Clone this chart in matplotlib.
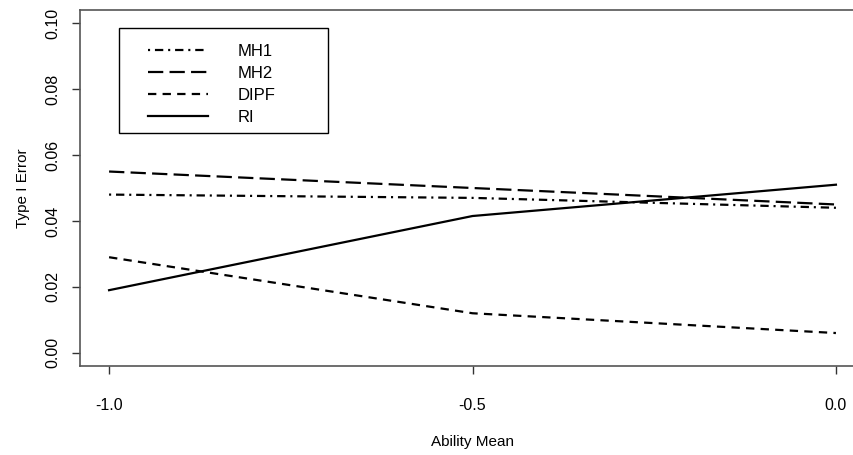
import matplotlib
matplotlib.use("Agg")
import matplotlib.pyplot as plt
from matplotlib.patches import Rectangle

plt.rcParams['font.family'] = ['Liberation Sans', 'DejaVu Sans']
plt.rcParams['lines.scale_dashes'] = False

ability_mean = [-1.0, -0.5, 0.0]
series_names = ['MH1', 'MH2', 'DIPF', 'RI']
mh1 = [0.048, 0.047, 0.044]
mh2 = [0.055, 0.050, 0.045]
dipf = [0.029, 0.012, 0.006]
ri = [0.019, 0.0415, 0.051]
x_ticks = [-1.0, -0.5, 0.0]
x_tick_labels = ['-1.0', '-0.5', '0.0']
y_ticks = [0.00, 0.02, 0.04, 0.06, 0.08, 0.10]
y_tick_labels = ['0.00', '0.02', '0.04', '0.06', '0.08', '0.10']

# dash patterns in points (R-like lty 4, 5, 2, 1)
styles = [(0, (1.5, 3.5, 6, 3.5)), (0, (11, 4.5)), (0, (6, 4.5)), '-']

W, H = 854, 455
fig = plt.figure(figsize=(W / 100, H / 100), dpi=100)
ax = fig.add_axes([80 / W, (H - 366) / H, 785 / W, 356 / H])

for vals, name, ls in zip([mh1, mh2, dipf, ri], series_names, styles):
    ax.plot(ability_mean, vals, color='black', linestyle=ls, linewidth=1.6, label=name)

ax.set_xlim(-1.04, 0.04)
ax.set_ylim(-0.004, 0.104)
ax.set_xticks(x_ticks)
ax.set_xticklabels(x_tick_labels, fontsize=11.5)
ax.set_yticks(y_ticks)
ax.set_yticklabels(y_tick_labels, fontsize=11.5, rotation=90, va='center')
ax.tick_params(axis='both', direction='out', length=6, width=1, color='#333333')
ax.tick_params(axis='x', pad=17)
ax.tick_params(axis='y', pad=8)
for side in ['top', 'left', 'bottom']:
    ax.spines[side].set_color('#555555')
    ax.spines[side].set_linewidth(1.2)
ax.spines['right'].set_visible(False)

ax.set_xlabel('Ability Mean', fontsize=11, labelpad=16)
ax.set_ylabel('Type I Error', fontsize=11, labelpad=11)

# legend box drawn separately so it can be as wide as the R one
fig.add_artist(Rectangle((119 / W, (H - 133) / H), 209 / W, 105 / H,
                         transform=fig.transFigure, fill=False,
                         edgecolor='black', linewidth=1.0))
leg = ax.legend(loc='upper left', bbox_to_anchor=(148 / W, 1 - 44 / H),
                bbox_transform=fig.transFigure, frameon=False, fontsize=12,
                handlelength=3.6, handletextpad=1.8, labelspacing=0.42,
                borderpad=0, borderaxespad=0)

fig.savefig('out.png', dpi=100)
